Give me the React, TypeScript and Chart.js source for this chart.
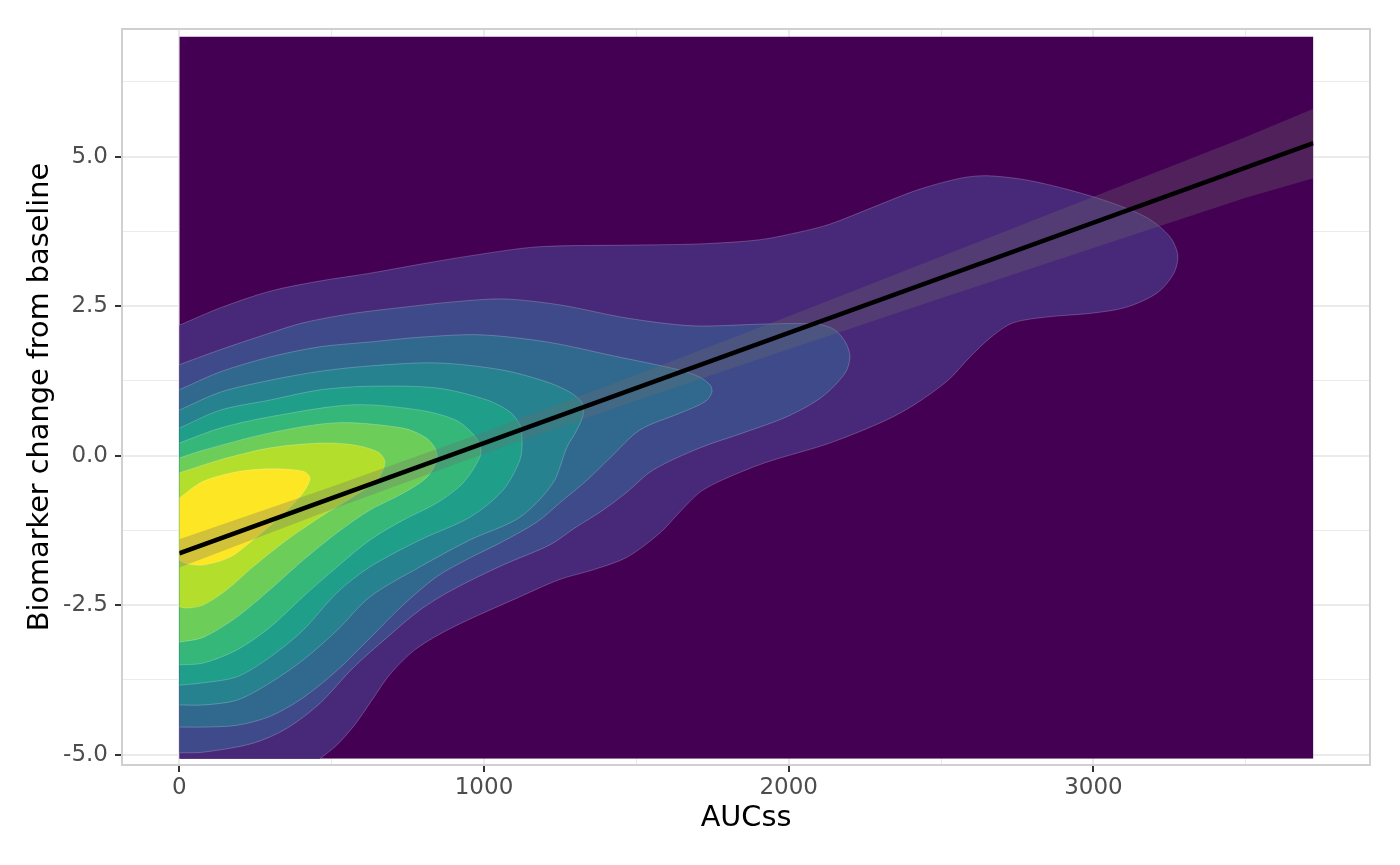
import React, { useEffect, useRef } from "react";
import { Chart, registerables } from "chart.js";

Chart.register(...registerables);

// ---------- axes ----------
const xMajorTicks = [0, 1000, 2000, 3000];
const xMinorTicks = [500, 1500, 2500, 3500];
const yMajorTicks = [-5, -2.5, 0, 2.5, 5];
const yMinorTicks = [-3.75, -1.25, 1.25, 3.75, 6.25];
const xLimits = [-188.1, 3907.8];
const yLimits = [-5.174, 7.134];

// ---------- density estimate extent ----------
const densityX = [0, 3722];
const densityY = [-5.07, 7.01];

// ---------- filled density contour levels (outer -> inner) ----------
const level2 = [
  [0, 2.18], [134, 2.47], [298, 2.75], [462, 2.92], [626, 3.05], [790, 3.2], [954, 3.34],
  [1174, 3.49], [1480, 3.52], [1709, 3.54], [1906, 3.61], [2037, 3.74], [2135, 3.87],
  [2280, 4.16], [2421, 4.44], [2565, 4.64], [2651, 4.68], [2779, 4.61], [2923, 4.44],
  [3064, 4.22], [3179, 3.97], [3251, 3.66], [3277, 3.35], [3264, 3.05], [3209, 2.72],
  [3107, 2.48], [2992, 2.38], [2851, 2.32], [2736, 2.22], [2664, 1.98], [2595, 1.65],
  [2523, 1.26], [2421, 0.88], [2323, 0.6], [2135, 0.21], [1922, -0.12], [1781, -0.41],
  [1709, -0.61], [1643, -0.94], [1578, -1.29], [1469, -1.7], [1358, -1.91], [1249, -2.07],
  [1118, -2.36], [898, -2.87], [775, -3.24], [691, -3.66], [632, -4.09], [576, -4.5],
  [517, -4.84], [462, -5.07], [420, -5.25], [0, -5.25],
];
const level3 = [
  [0, 1.52], [134, 1.77], [298, 2.05], [406, 2.22], [560, 2.37], [734, 2.48], [898, 2.57],
  [1062, 2.62], [1249, 2.52], [1469, 2.3], [1686, 2.17], [1922, 2.2], [2093, 2.2],
  [2152, 2.1], [2188, 1.88], [2201, 1.65], [2185, 1.38], [2109, 0.98], [1994, 0.65],
  [1850, 0.38], [1709, 0.13], [1555, -0.24], [1469, -0.61], [1391, -0.91], [1298, -1.21],
  [1217, -1.49], [1062, -1.83], [898, -2.24], [790, -2.58], [682, -3.04], [570, -3.55],
  [462, -4.14], [353, -4.56], [242, -4.81], [78, -4.96], [0, -4.97],
];
const level4 = [
  [0, 1.1], [134, 1.4], [298, 1.65], [462, 1.82], [626, 1.9], [790, 1.98], [987, 2.02],
  [1207, 1.9], [1423, 1.67], [1643, 1.43], [1709, 1.31], [1742, 1.18], [1748, 1.06],
  [1725, 0.9], [1643, 0.71], [1512, 0.43], [1413, -0.04], [1338, -0.41], [1249, -0.79],
  [1174, -1.11], [1053, -1.46], [954, -1.71], [846, -2.02], [734, -2.5], [626, -3.05],
  [518, -3.59], [406, -4.05], [298, -4.36], [189, -4.51], [78, -4.54], [0, -4.54],
];
const level5 = [
  [0, 0.76], [134, 1.06], [298, 1.26], [462, 1.41], [626, 1.5], [846, 1.55], [1062, 1.43],
  [1207, 1.23], [1282, 1.06], [1322, 0.88], [1325, 0.68], [1305, 0.43], [1272, 0.14],
  [1226, -0.46], [1118, -1.03], [954, -1.41], [790, -1.86], [626, -2.36], [518, -2.92],
  [406, -3.42], [298, -3.8], [189, -4.09], [78, -4.17], [0, -4.17],
];
const level6 = [
  [0, 0.46], [134, 0.76], [298, 0.93], [462, 1.1], [626, 1.16], [846, 1.13], [1010, 0.93],
  [1085, 0.73], [1118, 0.51], [1125, 0.26], [1118, -0.07], [1062, -0.58], [954, -1.03],
  [790, -1.41], [626, -1.86], [518, -2.29], [406, -2.92], [298, -3.37], [189, -3.7],
  [78, -3.8], [0, -3.84],
];
const level7 = [
  [0, 0.21], [134, 0.46], [298, 0.65], [570, 0.85], [790, 0.76], [905, 0.6], [961, 0.38],
  [987, 0.18], [987, -0.02], [931, -0.46], [846, -0.79], [734, -1.08], [626, -1.41],
  [518, -1.86], [406, -2.36], [298, -2.87], [189, -3.25], [78, -3.47], [0, -3.5],
];
const level8 = [
  [0, -0.04], [78, 0.09], [298, 0.38], [518, 0.55], [734, 0.46], [806, 0.31], [839, 0.13],
  [846, -0.07], [813, -0.36], [734, -0.63], [626, -0.91], [518, -1.29], [406, -1.75],
  [298, -2.24], [189, -2.7], [78, -3.04], [0, -3.12],
];
const level9 = [
  [0, -0.29], [134, -0.07], [298, 0.13], [462, 0.21], [570, 0.18], [652, 0.06], [675, -0.11],
  [649, -0.41], [570, -0.69], [462, -1.03], [353, -1.41], [242, -1.86], [157, -2.24],
  [78, -2.5], [25, -2.55], [0, -2.53],
];
const level10 = [
  [0, -0.71], [78, -0.43], [189, -0.27], [298, -0.22], [406, -0.26], [429, -0.36],
  [422, -0.49], [396, -0.69], [330, -1.03], [242, -1.41], [166, -1.7], [78, -1.83],
  [25, -1.81], [0, -1.75],
];
const levelColors = [
  "#440154", "#482878", "#3E4A89", "#31688E", "#26828E",
  "#1F9E89", "#35B779", "#6DCD59", "#B4DE2C", "#FDE725",
];

// ---------- linear fit with confidence band ----------
const fitX = [0, 3722];
const fitY = [-1.634, 5.227];
const bandX = [0, 500, 1000, 1500, 2000, 2500, 3000, 3500, 3722];
const bandUpper = [-1.4, -0.52, 0.39, 1.35, 2.33, 3.33, 4.33, 5.33, 5.8];
const bandLower = [-1.87, -0.9, 0.03, 0.92, 1.78, 2.63, 3.47, 4.31, 4.64];

const FONT = "'DejaVu Sans', 'Liberation Sans', sans-serif";

const toPts = (arr: number[][]) => arr.map(([x, y]) => ({ x, y }));

const panelBorder = {
  id: "panelBorder",
  afterDraw(chart: any) {
    const { ctx, chartArea } = chart;
    const { left, top, right, bottom } = chartArea;
    ctx.save();
    ctx.strokeStyle = "#D0D0D0";
    ctx.lineWidth = 2;
    ctx.strokeRect(left, top, right - left, bottom - top);
    ctx.restore();
  },
};

// clip all marks to the extent of the density grid
const densityClip = {
  id: "densityClip",
  beforeDatasetsDraw(chart: any) {
    const { ctx, scales } = chart;
    const x0 = scales.x.getPixelForValue(densityX[0]);
    const x1 = scales.x.getPixelForValue(densityX[1]);
    const y0 = scales.y.getPixelForValue(densityY[1]);
    const y1 = scales.y.getPixelForValue(densityY[0]);
    ctx.save();
    ctx.beginPath();
    ctx.rect(x0, y0, x1 - x0, y1 - y0);
    ctx.clip();
  },
  afterDatasetsDraw(chart: any) {
    chart.ctx.restore();
  },
};

export default function App() {
  const canvasRef = useRef<HTMLCanvasElement | null>(null);

  useEffect(() => {
    if (!canvasRef.current) return;

    const level1 = [
      [densityX[0], densityY[0]],
      [densityX[0], densityY[1]],
      [densityX[1], densityY[1]],
      [densityX[1], densityY[0]],
    ];
    const levels = [level1, level2, level3, level4, level5, level6, level7, level8, level9, level10];

    const bandPoly = [
      ...bandX.map((x, i) => [x, bandUpper[i]]),
      ...bandX.map((x, i) => [x, bandLower[i]]).reverse(),
    ];

    const contourSets = levels.map((lv, i) => ({
      label: `level ${i + 1}`,
      data: toPts(lv),
      backgroundColor: levelColors[i],
      borderColor: i === 0 ? "rgba(0,0,0,0)" : "rgba(255,255,255,0.22)",
      borderWidth: i === 0 ? 0 : 1,
      pointRadius: 0,
      fill: "shape",
      tension: i === 0 ? 0 : 0.3,
      order: 20 - i,
    }));

    const chart = new Chart(canvasRef.current, {
      type: "line",
      data: {
        datasets: [
          {
            label: "fit",
            data: fitX.map((x, i) => ({ x, y: fitY[i] })),
            borderColor: "#000000",
            borderWidth: 4.4,
            pointRadius: 0,
            fill: false,
            tension: 0,
            order: 0,
          },
          {
            label: "se",
            data: toPts(bandPoly),
            backgroundColor: "rgba(110,110,110,0.3)",
            borderColor: "rgba(0,0,0,0)",
            borderWidth: 0,
            pointRadius: 0,
            fill: "shape",
            tension: 0,
            order: 1,
          },
          ...contourSets,
        ] as any,
      },
      options: {
        animation: false,
        responsive: false,
        devicePixelRatio: 1,
        events: [],
        layout: { padding: { top: 29, right: 30, left: 0, bottom: 0 } },
        plugins: { legend: { display: false }, tooltip: { enabled: false } },
        scales: {
          x: {
            type: "linear",
            min: xLimits[0],
            max: xLimits[1],
            afterBuildTicks: (s: any) => {
              s.ticks = [...xMajorTicks, ...xMinorTicks].sort((a, b) => a - b).map((v) => ({ value: v }));
            },
            afterFit: (s: any) => {
              s.height = 100;
            },
            border: { display: false },
            grid: {
              color: "#EBEBEB",
              lineWidth: (c: any) => (xMajorTicks.includes(c.tick?.value) ? 2 : 1),
              tickLength: 7,
              tickWidth: 2,
              tickColor: (c: any) => (xMajorTicks.includes(c.tick?.value) ? "#333333" : "rgba(0,0,0,0)"),
            },
            ticks: {
              autoSkip: false,
              maxRotation: 0,
              padding: 2,
              color: "#4D4D4D",
              font: { family: FONT, size: 23 },
              callback: (v: any) => (xMajorTicks.includes(Number(v)) ? String(v) : ""),
            },
            title: {
              display: true,
              text: "AUCss",
              color: "#000000",
              font: { family: FONT, size: 28.75 },
              padding: { top: 0, bottom: 28.75 },
            },
          },
          y: {
            type: "linear",
            min: yLimits[0],
            max: yLimits[1],
            afterBuildTicks: (s: any) => {
              s.ticks = [...yMajorTicks, ...yMinorTicks].sort((a, b) => a - b).map((v) => ({ value: v }));
            },
            afterFit: (s: any) => {
              s.width = 122;
            },
            border: { display: false },
            grid: {
              color: "#EBEBEB",
              lineWidth: (c: any) => (yMajorTicks.includes(c.tick?.value) ? 2 : 1),
              tickLength: 7,
              tickWidth: 2,
              tickColor: (c: any) => (yMajorTicks.includes(c.tick?.value) ? "#333333" : "rgba(0,0,0,0)"),
            },
            ticks: {
              autoSkip: false,
              padding: 7,
              color: "#4D4D4D",
              font: { family: FONT, size: 23 },
              callback: (v: any) => (yMajorTicks.includes(Number(v)) ? Number(v).toFixed(1) : ""),
            },
            title: {
              display: true,
              text: "Biomarker change from baseline",
              color: "#000000",
              font: { family: FONT, size: 28.75 },
              padding: { top: 23.75, bottom: 0 },
            },
          },
        },
      } as any,
      plugins: [densityClip, panelBorder],
    });

    return () => chart.destroy();
  }, []);

  return (
    <div style={{ position: "absolute", left: 0, top: 0, width: 1400, height: 865, background: "#FFFFFF" }}>
      <canvas ref={canvasRef} width={1400} height={865} style={{ display: "block", width: 1400, height: 865 }} />
    </div>
  );
}
